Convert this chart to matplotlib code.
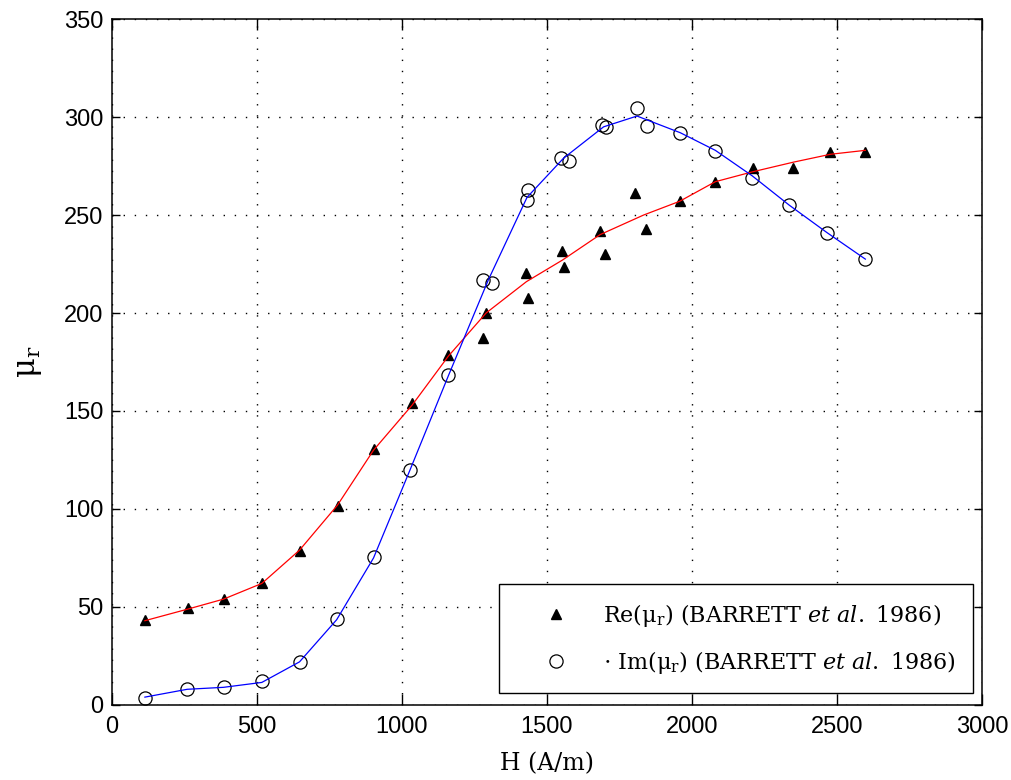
import matplotlib
matplotlib.use("Agg")
import matplotlib.pyplot as plt
from matplotlib.lines import Line2D

# Measured data (BARRETT et al. 1986)
re_h = [115, 265, 386, 518, 648, 779, 903, 1036, 1161, 1282, 1291, 1429, 1437,
        1554, 1560, 1684, 1700, 1805, 1843, 1958, 2081, 2211, 2349, 2475, 2598]
re_mu = [43.4, 49.3, 54, 62.4, 78.6, 101.5, 130.4, 154, 178.6, 187, 199.8, 220.6, 207.5,
         231.8, 223.6, 242, 230, 261.4, 243, 257.3, 267, 273.8, 273.8, 282.3, 282.3]

im_h = [115, 261, 386, 518, 648, 776, 903, 1029, 1161, 1282, 1311, 1432, 1437,
        1550, 1575, 1690, 1705, 1811, 1845, 1960, 2081, 2208, 2336, 2466, 2598]
im_mu = [3.7, 8, 9, 12.4, 22, 43.7, 75.4, 120, 168.4, 217, 215.5, 257.6, 262.7,
         279, 277.7, 296, 295, 304.4, 295.4, 292, 282.8, 269, 255, 240.7, 227.6]

# Fitted curves
re_fit_h = [115, 265, 386, 518, 648, 779, 903, 1036, 1161, 1291, 1430, 1554, 1684,
            1834, 1958, 2081, 2208, 2351, 2478, 2598]
re_fit_mu = [43, 49, 54, 62, 79, 102, 130, 153, 178, 200, 216, 227, 240, 250, 257,
             267, 272, 277, 281, 283]

im_fit_h = [115, 261, 386, 518, 648, 776, 903, 1029, 1161, 1299, 1432, 1558, 1696,
            1811, 1960, 2081, 2208, 2336, 2466, 2598]
im_fit_mu = [4, 8, 9, 11.5, 22, 43.5, 75, 120, 168, 217, 259, 279, 295, 300.5, 292,
             283, 270, 255, 241, 227.5]

x_ticks = [0, 500, 1000, 1500, 2000, 2500, 3000]
y_ticks = [0, 50, 100, 150, 200, 250, 300, 350]

plt.rcParams['mathtext.fontset'] = 'custom'
plt.rcParams['mathtext.rm'] = 'DejaVu Serif'
plt.rcParams['mathtext.it'] = 'DejaVu Serif:italic'
plt.rcParams['mathtext.bf'] = 'DejaVu Serif:bold'

fig = plt.figure(figsize=(10.11, 7.80), dpi=100)
ax = fig.add_axes([0.1103, 0.0962, 0.9713 - 0.1103, 0.9756 - 0.0962])

ax.plot(re_h, re_mu, linestyle='none', marker='^', color='black', markersize=7.5, zorder=2)
ax.plot(im_h, im_mu, linestyle='none', marker='o', markerfacecolor='none',
        markeredgecolor='black', markeredgewidth=0.9, markersize=9.5, zorder=2)
ax.plot(re_fit_h, re_fit_mu, color='#ff0000', linewidth=0.9, zorder=3)
ax.plot(im_fit_h, im_fit_mu, color='#0000ff', linewidth=0.9, zorder=3)

ax.set_xlim(0, 3000)
ax.set_ylim(0, 350)
ax.set_xticks(x_ticks)
ax.set_yticks(y_ticks)
ax.set_xticklabels([str(v) for v in x_ticks], fontfamily='Liberation Sans', fontsize=17)
ax.set_yticklabels([str(v) for v in y_ticks], fontfamily='Liberation Sans', fontsize=17)
ax.tick_params(axis='both', direction='in', top=True, right=True, width=1.0, color='black')
ax.tick_params(axis='x', length=8, pad=8)
ax.tick_params(axis='y', length=6, pad=6)
for s in ax.spines.values():
    s.set_linewidth(1.1)

ax.grid(True, color='black', linestyle=(0, (1, 7)), linewidth=1.0)
ax.set_axisbelow(True)

ax.set_xlabel('H (A/m)', fontfamily='DejaVu Serif', fontsize=17, labelpad=10)
ax.set_ylabel(r'$\mathrm{\mu_r}$', fontsize=22, labelpad=14)

handles = [
    Line2D([], [], linestyle='none', marker='^', color='black', markersize=7.5),
    Line2D([], [], linestyle='none', marker='o', markerfacecolor='none',
           markeredgecolor='black', markeredgewidth=0.9, markersize=9.5),
]
labels = [
    r'$\mathrm{Re(\mu_r)\ (BARRETT\ }\mathit{et\ al.\ 1986)}$',
    r'$\mathrm{\cdot\ Im(\mu_r)\ (BARRETT\ }\mathit{et\ al.\ 1986)}$',
]
leg = ax.legend(handles, labels, loc='lower right', fontsize=16, frameon=True,
                fancybox=False, edgecolor='black', framealpha=1, borderpad=0.78,
                labelspacing=0.9, handlelength=3.6, handletextpad=0.3,
                borderaxespad=0.0, bbox_to_anchor=(0.9895, 0.0175))
leg.get_frame().set_linewidth(1.0)

fig.savefig('out.png', dpi=100)
